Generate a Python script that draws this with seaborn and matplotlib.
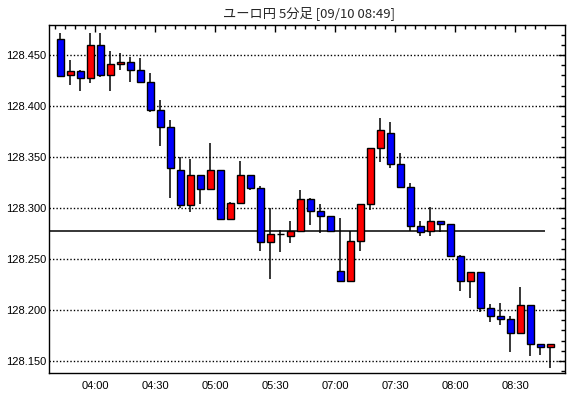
import matplotlib
matplotlib.use("Agg")
import matplotlib.pyplot as plt
from matplotlib.ticker import MultipleLocator, FixedLocator
import numpy as np
import pandas as pd
import seaborn as sb

# 5分足 ユーロ円 (03:40-05:55, 07:00-08:45)
opens = [128.466, 128.430, 128.434, 128.427, 128.460, 128.430, 128.441, 128.443, 128.435, 128.424,
         128.396, 128.379, 128.337, 128.303, 128.332, 128.319, 128.337, 128.289, 128.305, 128.332,
         128.320, 128.267, 128.274, 128.273, 128.277, 128.309, 128.297, 128.292, 128.238, 128.228,
         128.268, 128.304, 128.359, 128.374, 128.343, 128.321, 128.282, 128.277, 128.287, 128.284,
         128.253, 128.228, 128.237, 128.202, 128.194, 128.191, 128.177, 128.205, 128.167, 128.164]
highs = [128.472, 128.445, 128.435, 128.472, 128.472, 128.454, 128.452, 128.448, 128.447, 128.432,
         128.406, 128.386, 128.350, 128.348, 128.332, 128.364, 128.337, 128.306, 128.346, 128.332,
         128.322, 128.300, 128.278, 128.287, 128.318, 128.310, 128.304, 128.292, 128.290, 128.277,
         128.304, 128.359, 128.388, 128.384, 128.354, 128.324, 128.287, 128.301, 128.287, 128.284,
         128.254, 128.237, 128.237, 128.206, 128.207, 128.194, 128.223, 128.205, 128.167, 128.167]
lows = [128.428, 128.421, 128.415, 128.423, 128.428, 128.415, 128.435, 128.424, 128.424, 128.394,
        128.361, 128.310, 128.300, 128.296, 128.304, 128.319, 128.289, 128.288, 128.305, 128.318,
        128.258, 128.230, 128.257, 128.266, 128.277, 128.283, 128.275, 128.277, 128.227, 128.228,
        128.258, 128.298, 128.345, 128.339, 128.321, 128.277, 128.273, 128.273, 128.276, 128.253,
        128.219, 128.212, 128.198, 128.188, 128.185, 128.159, 128.177, 128.155, 128.156, 128.143]
closes = [128.429, 128.434, 128.427, 128.460, 128.430, 128.441, 128.443, 128.435, 128.424, 128.396,
          128.379, 128.339, 128.303, 128.332, 128.319, 128.337, 128.289, 128.305, 128.332, 128.320,
          128.267, 128.274, 128.274, 128.277, 128.309, 128.297, 128.292, 128.277, 128.228, 128.268,
          128.304, 128.359, 128.376, 128.343, 128.321, 128.282, 128.276, 128.287, 128.284, 128.253,
          128.228, 128.237, 128.202, 128.194, 128.191, 128.177, 128.205, 128.167, 128.164, 128.167]
ref_line = 128.2775
titulo = "ユーロ円 5分足 [09/10 08:49]"

times = list(pd.date_range("03:40", "05:55", freq="5min")) + list(pd.date_range("07:00", "08:45", freq="5min"))

t = pd.DataFrame({"open": opens, "high": highs, "low": lows, "close": closes})
t["x"] = np.arange(len(t))
t["color"] = np.where(t["close"] > t["open"], "#ff0000",
                      np.where(t["close"] < t["open"], "#0000ff", "black"))

sb.set_style("white")
plt.rcParams["font.family"] = ["Liberation Sans", "Noto Sans CJK JP", "DejaVu Sans"]

fig = plt.figure(figsize=(5.7, 3.98), dpi=100)
ax = fig.add_axes([49 / 570, 25 / 398, 516 / 570, 348 / 398])

ax.set_xlim(-1.1, 50.5)
ax.set_ylim(128.1382, 128.4794)

# grid
for yv in np.arange(128.15, 128.46, 0.05):
    ax.axhline(yv, color="black", lw=1, ls=(0, (1, 1.5)), zorder=0)

# reference line
ax.hlines(ref_line, -1.1, 48.5, color="black", lw=1.1, zorder=1)

# wicks + bodies
ax.vlines(t["x"], t["low"], t["high"], color="black", lw=1.1, zorder=2)
body_h = (t["close"] - t["open"]).abs().clip(lower=0.0006)
body_b = t[["open", "close"]].min(axis=1)
ax.bar(t["x"], body_h, bottom=body_b, width=0.7, color=t["color"],
       edgecolor="black", linewidth=1, zorder=3)

# axes
ax.yaxis.set_major_locator(MultipleLocator(0.05))
ax.yaxis.set_minor_locator(MultipleLocator(0.01))
ax.yaxis.set_major_formatter(plt.FuncFormatter(lambda v, p: f"{v:.3f}"))
major_idx = [i for i, tm in enumerate(times) if tm.minute % 30 == 0]
ax.xaxis.set_major_locator(FixedLocator([i - 0.5 for i in major_idx]))
ax.set_xticklabels([times[i].strftime("%H:%M") for i in major_idx])
ax.xaxis.set_minor_locator(FixedLocator([i - 0.5 for i in range(len(times))]))

ax.tick_params(which="both", direction="in", top=True, right=True, colors="black",
               labelsize=8)
ax.tick_params(which="major", length=5, width=1)
ax.tick_params(which="minor", length=3, width=1)
ax.tick_params(axis="y", pad=2)
ax.tick_params(axis="x", pad=6)
for s in ax.spines.values():
    s.set_visible(True)
    s.set_color("black")
    s.set_linewidth(1)

fig.text(309 / 570, 1 - 13 / 398, titulo, ha="center", va="center", fontsize=9.5,
         family=["Noto Sans CJK JP", "DejaVu Sans"])

fig.savefig("out.png", dpi=100)
